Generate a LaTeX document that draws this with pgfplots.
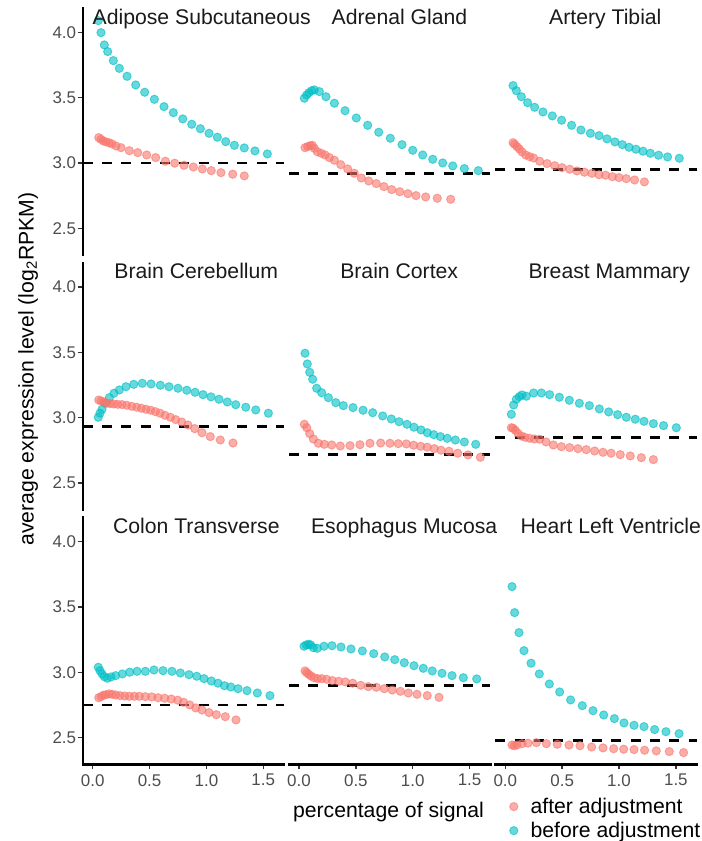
\documentclass[border=0pt]{standalone}
\usepackage{fontspec}
\setmainfont{Liberation Sans}
\usepackage{pgfplots}
\pgfplotsset{compat=1.18}
\usepackage{pgfplotstable}

\definecolor{afterc}{HTML}{F8766D}
\definecolor{beforec}{HTML}{00BFC4}
\definecolor{grey30}{HTML}{4D4D4D}
\definecolor{grey20}{HTML}{333333}
\definecolor{grey10}{HTML}{1A1A1A}

\newcommand{\fontTick}{\fontsize{12.7}{15}\selectfont}
\newcommand{\fontText}{\fontsize{15.9}{19}\selectfont}

% ---------------- data: before / after adjustment per tissue ----------------
\pgfplotstableread{
x y
0.049 4.089
0.073 3.997
0.102 3.903
0.132 3.852
0.181 3.783
0.234 3.724
0.302 3.663
0.378 3.597
0.457 3.541
0.542 3.487
0.627 3.431
0.709 3.385
0.792 3.337
0.871 3.296
0.947 3.262
1.023 3.227
1.096 3.197
1.170 3.163
1.246 3.135
1.333 3.115
1.427 3.092
1.536 3.069
}\AdiB
\pgfplotstableread{
x y
0.053 3.194
0.073 3.181
0.093 3.168
0.117 3.161
0.143 3.155
0.170 3.145
0.205 3.130
0.249 3.117
0.322 3.094
0.396 3.079
0.475 3.061
0.554 3.041
0.639 3.013
0.721 2.998
0.803 2.982
0.885 2.969
0.964 2.954
1.043 2.941
1.128 2.926
1.231 2.914
1.333 2.901
}\AdiA

\pgfplotstableread{
x y
0.047 3.495
0.067 3.520
0.088 3.538
0.112 3.553
0.135 3.559
0.179 3.546
0.237 3.507
0.311 3.457
0.405 3.400
0.504 3.344
0.604 3.288
0.701 3.235
0.803 3.189
0.906 3.140
1.000 3.097
1.088 3.061
1.176 3.028
1.264 3.000
1.352 2.977
1.454 2.957
1.577 2.941
}\AdrB
\pgfplotstableread{
x y
0.053 3.117
0.076 3.125
0.097 3.132
0.117 3.135
0.135 3.112
0.161 3.086
0.196 3.074
0.229 3.061
0.267 3.041
0.311 3.021
0.367 2.987
0.428 2.954
0.486 2.921
0.548 2.885
0.613 2.862
0.680 2.842
0.747 2.819
0.815 2.796
0.886 2.780
0.958 2.765
1.029 2.750
1.114 2.740
1.216 2.730
1.334 2.722
}\AdrA

\pgfplotstableread{
x y
0.068 3.592
0.097 3.553
0.141 3.507
0.196 3.461
0.258 3.426
0.331 3.390
0.413 3.360
0.495 3.327
0.583 3.288
0.665 3.252
0.748 3.227
0.824 3.209
0.894 3.184
0.964 3.161
1.029 3.140
1.088 3.120
1.149 3.105
1.211 3.090
1.275 3.074
1.348 3.059
1.427 3.046
1.530 3.036
}\ArtB
\pgfplotstableread{
x y
0.068 3.155
0.082 3.143
0.103 3.125
0.123 3.107
0.147 3.084
0.179 3.061
0.214 3.048
0.249 3.038
0.302 3.013
0.367 2.995
0.434 2.979
0.499 2.964
0.566 2.952
0.630 2.939
0.697 2.929
0.762 2.921
0.824 2.910
0.882 2.906
0.941 2.895
1.000 2.888
1.064 2.880
1.137 2.870
1.223 2.855
}\ArtA

\pgfplotstableread{
x y
0.049 3.003
0.064 3.034
0.082 3.064
0.111 3.110
0.146 3.153
0.187 3.187
0.234 3.212
0.293 3.237
0.361 3.255
0.436 3.263
0.513 3.258
0.595 3.248
0.671 3.237
0.750 3.225
0.827 3.210
0.900 3.194
0.970 3.176
1.040 3.159
1.111 3.141
1.184 3.120
1.258 3.099
1.346 3.080
1.434 3.059
1.545 3.034
}\CerB
\pgfplotstableread{
x y
0.053 3.135
0.073 3.128
0.097 3.120
0.123 3.112
0.152 3.107
0.185 3.105
0.220 3.102
0.258 3.100
0.299 3.095
0.343 3.087
0.387 3.080
0.428 3.072
0.469 3.064
0.510 3.057
0.551 3.046
0.592 3.034
0.636 3.018
0.683 3.003
0.730 2.985
0.783 2.967
0.838 2.944
0.897 2.916
0.961 2.885
1.034 2.855
1.122 2.829
1.234 2.806
}\CerA

\pgfplotstableread{
x y
0.053 3.493
0.073 3.411
0.094 3.347
0.120 3.294
0.155 3.225
0.199 3.191
0.258 3.153
0.323 3.115
0.390 3.092
0.475 3.077
0.563 3.057
0.648 3.038
0.736 3.013
0.812 2.990
0.880 2.969
0.950 2.949
1.011 2.927
1.073 2.906
1.128 2.885
1.185 2.870
1.243 2.855
1.304 2.842
1.375 2.829
1.454 2.814
1.554 2.796
}\CorB
\pgfplotstableread{
x y
0.047 2.949
0.068 2.923
0.094 2.878
0.126 2.837
0.170 2.804
0.223 2.796
0.288 2.791
0.363 2.783
0.449 2.786
0.536 2.793
0.624 2.804
0.718 2.806
0.800 2.804
0.873 2.801
0.944 2.799
1.008 2.789
1.070 2.781
1.128 2.774
1.190 2.763
1.249 2.751
1.319 2.743
1.396 2.728
1.486 2.715
1.595 2.697
}\CorA

\pgfplotstableread{
x y
0.053 3.026
0.073 3.097
0.097 3.141
0.123 3.161
0.147 3.174
0.185 3.164
0.249 3.189
0.317 3.189
0.390 3.176
0.475 3.156
0.563 3.133
0.651 3.110
0.739 3.092
0.827 3.067
0.909 3.044
0.988 3.023
1.064 3.003
1.143 2.988
1.220 2.972
1.302 2.954
1.392 2.939
1.504 2.923
}\BreB
\pgfplotstableread{
x y
0.053 2.923
0.068 2.919
0.088 2.904
0.111 2.881
0.141 2.860
0.173 2.850
0.214 2.842
0.255 2.837
0.302 2.835
0.358 2.814
0.422 2.791
0.493 2.778
0.566 2.771
0.639 2.763
0.712 2.755
0.786 2.745
0.859 2.735
0.930 2.728
1.011 2.717
1.099 2.707
1.196 2.694
1.302 2.679
}\BreA

\pgfplotstableread{
x y
0.049 3.039
0.064 3.013
0.082 2.988
0.102 2.967
0.129 2.955
0.161 2.965
0.202 2.975
0.261 2.988
0.325 3.001
0.390 3.008
0.463 3.008
0.539 3.018
0.618 3.013
0.697 3.008
0.771 2.995
0.847 2.982
0.915 2.970
0.979 2.952
1.043 2.934
1.102 2.917
1.158 2.898
1.214 2.888
1.278 2.875
1.357 2.860
1.448 2.842
1.559 2.822
}\ColB
\pgfplotstableread{
x y
0.053 2.806
0.073 2.814
0.093 2.825
0.117 2.829
0.143 2.835
0.170 2.832
0.202 2.827
0.240 2.822
0.281 2.819
0.322 2.817
0.366 2.817
0.410 2.817
0.463 2.814
0.519 2.812
0.574 2.806
0.633 2.802
0.691 2.796
0.748 2.787
0.800 2.771
0.853 2.751
0.906 2.728
0.961 2.712
1.023 2.692
1.087 2.676
1.166 2.661
1.260 2.636
}\ColA

\pgfplotstableread{
x y
0.044 3.200
0.064 3.210
0.085 3.215
0.103 3.210
0.126 3.189
0.161 3.184
0.220 3.200
0.290 3.204
0.369 3.194
0.457 3.179
0.557 3.164
0.657 3.143
0.754 3.118
0.842 3.097
0.926 3.074
1.011 3.051
1.093 3.031
1.172 3.011
1.258 2.993
1.346 2.975
1.445 2.959
1.563 2.950
}\EsoB
\pgfplotstableread{
x y
0.053 3.011
0.068 2.998
0.085 2.985
0.106 2.972
0.132 2.959
0.164 2.952
0.199 2.952
0.243 2.947
0.293 2.937
0.349 2.932
0.407 2.927
0.472 2.917
0.543 2.901
0.609 2.891
0.680 2.886
0.750 2.875
0.820 2.865
0.891 2.855
0.961 2.842
1.038 2.832
1.128 2.822
1.231 2.809
}\EsoA

\pgfplotstableread{
x y
0.059 3.656
0.082 3.457
0.120 3.304
0.164 3.166
0.226 3.070
0.299 2.988
0.387 2.911
0.478 2.850
0.574 2.789
0.677 2.745
0.771 2.707
0.865 2.674
0.959 2.646
1.044 2.613
1.132 2.595
1.220 2.585
1.313 2.562
1.413 2.546
1.528 2.531
}\HeaB
\pgfplotstableread{
x y
0.059 2.444
0.079 2.439
0.103 2.444
0.147 2.454
0.199 2.458
0.273 2.462
0.361 2.454
0.457 2.450
0.560 2.444
0.657 2.439
0.759 2.429
0.859 2.422
0.953 2.416
1.041 2.412
1.132 2.409
1.225 2.404
1.328 2.399
1.442 2.394
1.568 2.386
}\HeaA

% ---------------- styles ----------------
\pgfplotsset{
  /pgf/number format/.cd, fixed, fixed zerofill, precision=1, assume math mode=true,
  /pgfplots/.cd,
  panel/.style={
    scale only axis, width=151.1pt, height=185.25pt,
    xmin=-0.088, xmax=1.684, ymin=2.295, ymax=4.185,
    anchor=south west, clip=false,
    axis lines*=left,
    axis line style={line width=1.7pt, black, line cap=rect},
    x axis line style={draw=none}, y axis line style={draw=none},
    xtick=\empty, ytick=\empty,
    tick align=outside, major tick length=3.75pt,
    tick style={grey20, line width=1.1pt},
    ticklabel style={font=\fontTick, text=grey30},
    yticklabel style={inner xsep=1pt},
  },
  ycol/.style={y axis line style={draw=black}, ytick={2.5,3,3.5,4}},
  xrow/.style={x axis line style={draw=black}, xtick={0,0.5,1,1.5}},
  before/.style={only marks, mark=*, mark size=3.1pt,
    mark options={fill=beforec, draw=beforec, fill opacity=0.6, draw opacity=0.6, line width=0.7pt}},
  after/.style={only marks, mark=*, mark size=3.1pt,
    mark options={fill=afterc, draw=afterc, fill opacity=0.6, draw opacity=0.6, line width=0.7pt}},
  hl/.style={black, line width=2pt, dash pattern=on 7.5pt off 7pt},
}

% one facet: position, before table, after table, reference level, extra options
\newcommand{\panel}[6]{%
  \begin{axis}[panel, at={(#1,#2)}, #6]
    \addplot[before, forget plot] table {#3};
    \addplot[after, forget plot] table {#4};
    \addplot[hl, forget plot] coordinates {(-0.088,#5) (1.684,#5)};
  \end{axis}}

\begin{document}
\begin{tikzpicture}
\useasboundingbox (0,0) rectangle (525.75pt,630.75pt);

\panel{62.03pt}{439.43pt}{\AdiB}{\AdiA}{3.00}{ycol}
\panel{216.75pt}{439.43pt}{\AdrB}{\AdrA}{2.92}{}
\panel{371.48pt}{439.43pt}{\ArtB}{\ArtA}{2.95}{}

\panel{62.03pt}{248.4pt}{\CerB}{\CerA}{2.93}{ycol}
\panel{216.75pt}{248.4pt}{\CorB}{\CorA}{2.72}{}
\panel{371.48pt}{248.4pt}{\BreB}{\BreA}{2.85}{}

\panel{62.03pt}{57.38pt}{\ColB}{\ColA}{2.75}{ycol, xrow}
\panel{216.75pt}{57.38pt}{\EsoB}{\EsoA}{2.90}{xrow}

\begin{axis}[panel, at={(371.48pt,57.38pt)}, xrow,
    legend style={at={(0.070,-0.1235)}, anchor=north west, draw=none, fill=none,
      inner sep=0pt, font=\fontText, row sep=1pt, /tikz/column sep=7.5pt},
    legend cell align=left]
  \addplot[before, forget plot] table {\HeaB};
  \addplot[after, forget plot] table {\HeaA};
  \addplot[hl, forget plot] coordinates {(-0.088,2.48) (1.684,2.48)};
  \addlegendimage{after}
  \addlegendentry{after adjustment}
  \addlegendimage{before}
  \addlegendentry{before adjustment}
\end{axis}

\begin{scope}[x=0.75pt, y=-0.75pt, yshift=630.75pt]
  \tikzset{facet/.style={anchor=base, font=\fontText, text=grey10, inner sep=0pt}}
  \node[facet] at (201.7,24.2) {Adipose Subcutaneous};
  \node[facet] at (399.5,24.2) {Adrenal Gland};
  \node[facet] at (605.3,24.2) {Artery Tibial};
  \node[facet] at (196.3,278.9) {Brain Cerebellum};
  \node[facet] at (399.2,278.9) {Brain Cortex};
  \node[facet] at (609.2,278.9) {Breast Mammary};
  \node[facet] at (196.3,533.6) {Colon Transverse};
  \node[facet] at (404.2,533.6) {Esophagus Mucosa};
  \node[facet] at (610.7,533.6) {Heart Left Ventricle};
  \node[rotate=90, anchor=base, font=\fontText, inner sep=0pt] at (33.5,369)
    {average expression level (log\textsubscript{2}RPKM)};
  \node[anchor=base, font=\fontText, inner sep=0pt] at (388.5,818) {percentage of signal};
\end{scope}
\end{tikzpicture}
\end{document}
